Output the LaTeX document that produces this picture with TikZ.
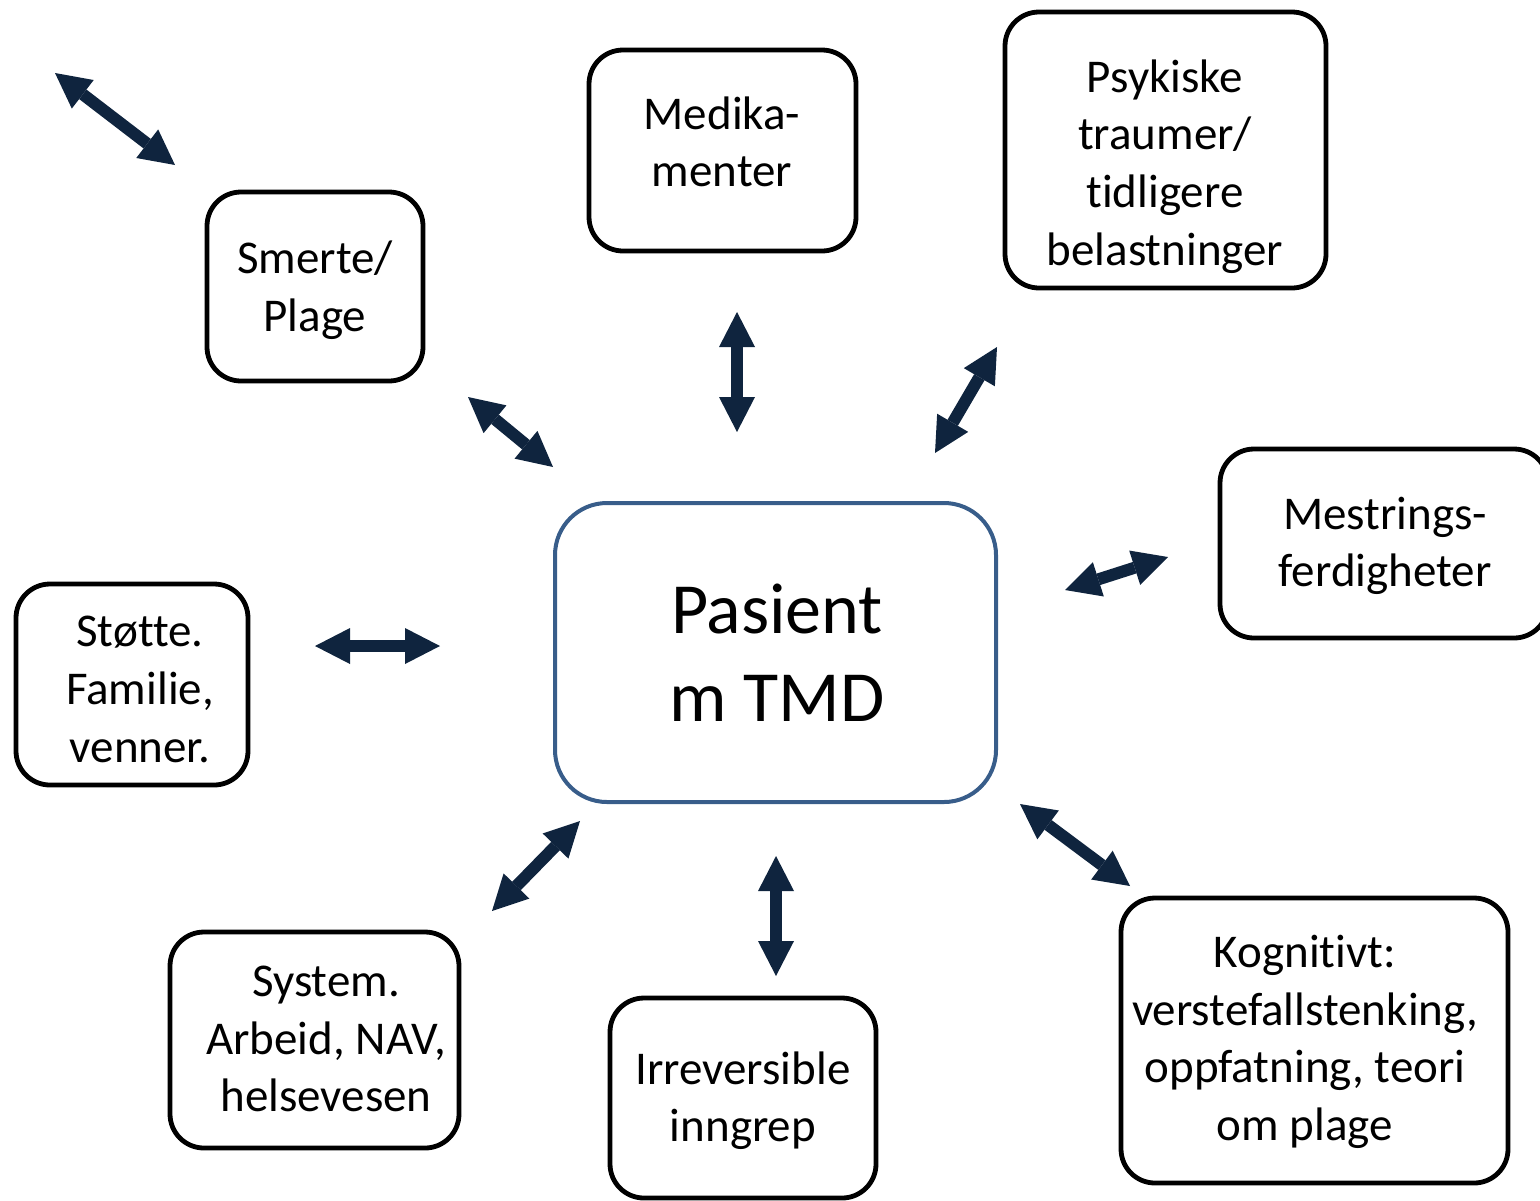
\documentclass[tikz,border=0pt]{standalone}
\usepackage{fontspec}
\setmainfont{Carlito}[Ligatures={NoCommon}]
\usetikzlibrary{arrows.meta}
\definecolor{navy}{HTML}{0F243E}
\definecolor{accblue}{HTML}{385D8A}
\tikzset{
  box/.style={draw=black, line width=2.4pt, rounded corners=17pt, inner sep=0pt, fill=white},
  centerbox/.style={draw=accblue, line width=2pt, rounded corners=26pt, inner sep=0pt, fill=white},
  txt/.style={align=center, inner sep=0pt, font=\fontsize{23.5pt}{28.8pt}\selectfont},
  bigtxt/.style={align=center, inner sep=0pt, font=\fontsize{36pt}{44pt}\selectfont},
  blockarrow/.style={draw=navy, line width=6pt,
    {Triangle[length=17.5pt,width=18pt,line width=0pt]}-{Triangle[length=17.5pt,width=18pt,line width=0pt]}},
}
\begin{document}
\begin{tikzpicture}[x=0.5pt,y=-0.5pt]
\useasboundingbox (0,0) rectangle (1540,1200);
% boxes
\node[box, minimum width=108pt, minimum height=94.5pt] (smerte) at (315,286.5) {};
\node[box, minimum width=133.5pt, minimum height=100.5pt] (medika) at (722.5,150.5) {};
\node[box, minimum width=160.5pt, minimum height=138pt] (psyk) at (1165.5,150) {};
\node[box, minimum width=164pt, minimum height=94.5pt] (mest) at (1384,543.5) {};
\node[box, minimum width=116pt, minimum height=100.5pt] (stotte) at (132,684.5) {};
\node[centerbox, minimum width=220.5pt, minimum height=149.5pt] (pas) at (775.5,652.5) {};
\node[box, minimum width=144.5pt, minimum height=108pt] (system) at (314.5,1040) {};
\node[box, minimum width=133pt, minimum height=100pt] (irrev) at (743,1098) {};
\node[box, minimum width=193.5pt, minimum height=142.5pt] (kogn) at (1314.5,1040.5) {};
% texts
\node[txt] (tsmerte) at (315,290) {Smerte/\\Plage};
\node[txt] (tmedika) at (722,142) {Medika-\\menter};
\node[txt] (tpsyk) at (1165,166.5) {Psykiske\\traumer/\\tidligere\\belastninger};
\node[txt] (tmest) at (1385,546) {Mestrings-\\ferdigheter};
\node[txt] (tstotte) at (140,689.5) {Støtte.\\Familie,\\venner.};
\node[bigtxt] (tpas) at (777,652.5) {Pasient\\m TMD};
\node[txt] (tsystem) at (326,1039) {System.\\Arbeid, NAV,\\helsevesen};
\node[txt] (tirrev) at (743,1100.5) {Irreversible\\inngrep};
\node[txt] (tkogn) at (1305,1042) {Kognitivt:\\verstefallstenking,\\oppfatning, teori\\om plage};
% arrow end points
\coordinate (a1s) at (55,73);    \coordinate (a1e) at (175,165);
\coordinate (a2s) at (468,397);  \coordinate (a2e) at (553,467);
\coordinate (a3s) at (737,312);  \coordinate (a3e) at (737,432);
\coordinate (a4s) at (997,347);  \coordinate (a4e) at (935,453);
\coordinate (a5s) at (1168,557); \coordinate (a5e) at (1065,590);
\coordinate (a6s) at (315,646);  \coordinate (a6e) at (440,646);
\coordinate (a7s) at (580,821);  \coordinate (a7e) at (492,911);
\coordinate (a8s) at (776,856);  \coordinate (a8e) at (776,976);
\coordinate (a9s) at (1020,804); \coordinate (a9e) at (1130,886);
\foreach \i in {1,...,9} {\draw[blockarrow] (a\i s) -- (a\i e);}
\end{tikzpicture}
\end{document}
